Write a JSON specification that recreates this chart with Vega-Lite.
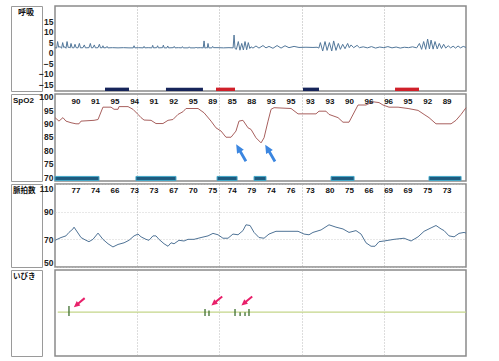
{
  "$schema": "https://vega.github.io/schema/vega-lite/v6.json",
  "padding": {"left": 10, "top": 5, "right": 5, "bottom": 5},
  "background": "white",
  "config": {
    "view": {"stroke": "#8a8a8a", "strokeWidth": 1.5},
    "axis": {"labelFont": "Liberation Sans", "labelFontSize": 8.5, "labelFontWeight": "bold", "labelColor": "#222", "ticks": false, "domain": false, "labelPadding": 2, "gridColor": "#c4c4c4", "gridDash": [3, 2], "gridWidth": 0.8}
  },
  "datasets": {
    "resp": [
      {"t":0,"v":2.4},{"t":1.2,"v":2.2},{"t":1.9,"v":5.3},{"t":2.7,"v":2.6},{"t":3.8,"v":2.9},{"t":4.8,"v":2.1},{"t":5.6,"v":4.8},{"t":6.4,"v":2.5},{"t":7.2,"v":2.8},{"t":8.0,"v":2.1},{"t":8.8,"v":5.3},{"t":9.6,"v":2.5},{"t":10.4,"v":2.6},{"t":11.0,"v":2.2},{"t":11.7,"v":4.4},{"t":12.5,"v":2.4},{"t":13.8,"v":2.3},{"t":14.6,"v":4.0},{"t":15.4,"v":2.4},{"t":16.8,"v":2.3},{"t":17.8,"v":4.4},{"t":18.6,"v":2.3},{"t":20.4,"v":2.4},{"t":21.4,"v":3.7},{"t":22.2,"v":2.3},{"t":24.8,"v":2.4},{"t":25.8,"v":4.4},{"t":26.6,"v":2.3},{"t":27.8,"v":2.4},{"t":28.7,"v":3.7},{"t":29.5,"v":2.3},{"t":31.4,"v":2.4},{"t":32.4,"v":4.0},{"t":33.2,"v":2.3},
      {"t":34.5,"v":2.4},{"t":35.0,"v":3.3},{"t":35.6,"v":2.3},{"t":37.4,"v":2.4},{"t":38.0,"v":3.0},{"t":38.6,"v":2.3},{"t":42,"v":2.4},{"t":46,"v":2.3},{"t":50,"v":2.4},{"t":54,"v":2.3},{"t":57.1,"v":2.3},{"t":57.7,"v":3.3},{"t":58.3,"v":2.3},{"t":61,"v":2.4},{"t":64.4,"v":2.3},{"t":65.0,"v":3.0},{"t":65.6,"v":2.3},{"t":68,"v":2.4},{"t":70.7,"v":2.3},{"t":71.3,"v":3.5},{"t":71.9,"v":2.3},{"t":74.3,"v":2.4},{"t":74.9,"v":3.3},{"t":75.5,"v":2.3},{"t":78.5,"v":2.4},{"t":79.1,"v":3.6},{"t":79.7,"v":2.3},{"t":81.7,"v":2.3},{"t":82.3,"v":3.2},{"t":82.9,"v":2.3},{"t":86.4,"v":2.4},{"t":87,"v":3.0},{"t":87.6,"v":2.3},{"t":90,"v":2.4},{"t":92.4,"v":2.3},{"t":93,"v":2.9},{"t":93.6,"v":2.3},{"t":97.4,"v":2.3},{"t":98,"v":2.8},{"t":98.6,"v":2.3},{"t":102.4,"v":2.3},{"t":103,"v":2.7},{"t":103.6,"v":2.3},{"t":106,"v":2.4},{"t":108.2,"v":2.3},
      {"t":108.8,"v":5.6},{"t":109.4,"v":2.2},{"t":110.5,"v":2.4},{"t":111.1,"v":2.2},{"t":111.7,"v":4.4},{"t":112.3,"v":2.3},{"t":114.5,"v":2.3},{"t":115.1,"v":3.0},{"t":115.7,"v":2.4},{"t":119,"v":2.4},{"t":123,"v":2.3},{"t":127,"v":2.4},{"t":130.0,"v":2.3},{"t":130.7,"v":8.4},{"t":131.4,"v":2.0},{"t":132.4,"v":1.6},{"t":133.8,"v":5.3},{"t":135.0,"v":1.2},{"t":136.3,"v":4.4},{"t":137.5,"v":1.3},{"t":138.7,"v":5.3},{"t":139.9,"v":1.4},{"t":141.1,"v":4.8},{"t":142.2,"v":2.0},
      {"t":143.1,"v":2.8},{"t":144.5,"v":2.2},{"t":146.7,"v":3.2},{"t":148.9,"v":2.2},{"t":151.8,"v":3.4},{"t":154,"v":2.3},{"t":156.2,"v":3.0},{"t":159.1,"v":2.1},{"t":162.1,"v":3.4},{"t":165,"v":2.2},{"t":167.9,"v":3.3},{"t":170.8,"v":2.4},{"t":174.5,"v":3.0},{"t":178.1,"v":2.5},{"t":183.2,"v":2.6},{"t":188.3,"v":2.5},{"t":191.3,"v":2.6},{"t":192.6,"v":2.2},
      {"t":193.7,"v":4.8},{"t":195.4,"v":0.8},{"t":197.1,"v":5.3},{"t":198.6,"v":1.1},{"t":200.3,"v":4.8},{"t":202.0,"v":0.8},{"t":203.4,"v":5.6},{"t":205.1,"v":1.1},{"t":206.8,"v":4.4},{"t":208.3,"v":1.6},{"t":210.0,"v":4.0},{"t":211.7,"v":1.9},{"t":213.6,"v":4.4},{"t":214.8,"v":2.4},{"t":216.1,"v":3.7},{"t":218.0,"v":2.4},{"t":220.5,"v":3.5},{"t":222.2,"v":2.4},
      {"t":225,"v":2.8},{"t":228,"v":2.3},{"t":231,"v":2.9},{"t":234,"v":2.2},{"t":237,"v":2.7},{"t":240,"v":2.4},{"t":243,"v":2.9},{"t":246,"v":2.3},{"t":249,"v":2.7},{"t":252,"v":2.2},{"t":255,"v":2.6},{"t":258,"v":2.4},{"t":261,"v":2.8},{"t":264,"v":2.3},
      {"t":266.0,"v":4.4},{"t":267.6,"v":1.6},{"t":269.1,"v":5.3},{"t":270.6,"v":1.6},{"t":272.0,"v":6.5},{"t":273.3,"v":1.8},{"t":274.5,"v":6.0},{"t":276.0,"v":1.7},{"t":277.4,"v":5.3},{"t":279.0,"v":1.8},{"t":280.5,"v":4.4},{"t":282.1,"v":2.0},{"t":283.7,"v":4.0},{"t":285.2,"v":2.2},{"t":287,"v":3.3},{"t":288.8,"v":2.3},{"t":290.6,"v":3.1},{"t":292.4,"v":2.2},{"t":294.2,"v":3.2},{"t":296,"v":2.3},{"t":298,"v":3.0},{"t":300,"v":2.5}
    ],
    "respEvents": [
      {"t":36.5,"t2":54.0,"kind":"低呼吸"},{"t":81.0,"t2":108.0,"kind":"低呼吸"},{"t":117.5,"t2":131.4,"kind":"無呼吸"},{"t":181.0,"t2":192.7,"kind":"低呼吸"},{"t":248.2,"t2":265.7,"kind":"無呼吸"}
    ],
    "spo2": [
      {"t":0,"v":92.2},{"t":2.9,"v":90.9},{"t":5.8,"v":92.2},{"t":8.0,"v":90.9},{"t":11.7,"v":90.3},{"t":15.3,"v":89.9},{"t":17.5,"v":89.9},{"t":19.0,"v":90.9},{"t":28.5,"v":91.2},{"t":31.4,"v":91.5},{"t":35.0,"v":96.1},{"t":40.9,"v":96.1},{"t":43.1,"v":95.3},{"t":46.0,"v":95.3},{"t":46.7,"v":96.3},{"t":53.3,"v":96.3},{"t":56.9,"v":95.3},{"t":60.6,"v":93.4},{"t":62.8,"v":92.2},{"t":65.0,"v":91.3},{"t":70.1,"v":91.2},{"t":73.7,"v":90.0},{"t":78.8,"v":90.0},{"t":82.5,"v":91.2},{"t":86.1,"v":91.5},{"t":89.8,"v":93.4},{"t":93.4,"v":94.4},{"t":95.6,"v":95.6},{"t":104.4,"v":95.6},{"t":108.8,"v":94.0},{"t":113.9,"v":90.9},{"t":117.5,"v":88.4},{"t":121.2,"v":87.2},{"t":124.8,"v":84.9},{"t":128.5,"v":84.9},{"t":132.1,"v":87.2},{"t":134.3,"v":90.9},{"t":137.2,"v":91.2},{"t":140.9,"v":88.4},{"t":143.1,"v":87.8},{"t":146.7,"v":84.7},{"t":150.4,"v":82.8},{"t":152.6,"v":84.7},{"t":155.5,"v":90.9},{"t":157.7,"v":95.3},{"t":159.9,"v":95.9},{"t":172.3,"v":95.6},{"t":177.4,"v":93.6},{"t":190.5,"v":93.6},{"t":192.7,"v":94.6},{"t":197.8,"v":94.6},{"t":200.0,"v":93.4},{"t":206.6,"v":92.2},{"t":210.2,"v":90.5},{"t":214.6,"v":90.5},{"t":221.2,"v":96.9},{"t":227.0,"v":96.9},{"t":232.1,"v":98.1},{"t":236.5,"v":97.8},{"t":239.4,"v":96.9},{"t":243.8,"v":96.1},{"t":250.4,"v":96.1},{"t":257.7,"v":95.6},{"t":265.0,"v":94.9},{"t":269.4,"v":93.4},{"t":273.0,"v":92.2},{"t":278.1,"v":89.9},{"t":289.1,"v":89.9},{"t":292.7,"v":91.2},{"t":296.4,"v":93.4},{"t":300,"v":95.9}
    ],
    "spo2Events": [
      {"t":0,"t2":32.1},{"t":59.1,"t2":88.3},{"t":118.3,"t2":132.9},{"t":145.3,"t2":154.0},{"t":201.5,"t2":218.3},{"t":273.0,"t2":296.4}
    ],
    "spo2Labels": [
      {"t":15.3,"n":"90"},{"t":29.6,"n":"91"},{"t":43.8,"n":"95"},{"t":58.1,"n":"94"},{"t":72.3,"n":"91"},{"t":86.6,"n":"92"},{"t":100.9,"n":"95"},{"t":115.1,"n":"89"},{"t":129.4,"n":"85"},{"t":143.6,"n":"88"},{"t":157.9,"n":"93"},{"t":172.2,"n":"95"},{"t":186.4,"n":"93"},{"t":200.7,"n":"93"},{"t":214.9,"n":"90"},{"t":229.2,"n":"96"},{"t":243.5,"n":"96"},{"t":257.7,"n":"95"},{"t":272.0,"n":"92"},{"t":286.2,"n":"89"}
    ],
    "spo2Arrows": [{"t":135.8,"v":79.1},{"t":157.0,"v":79.0}],
    "pulse": [
      {"t":0,"v":69.3},{"t":4.4,"v":71.3},{"t":8.0,"v":72.5},{"t":10.2,"v":75},{"t":13.1,"v":77.5},{"t":13.9,"v":78.8},{"t":19.0,"v":71.3},{"t":22.6,"v":69.3},{"t":24.8,"v":68.3},{"t":27.7,"v":70},{"t":31.4,"v":74.5},{"t":35.0,"v":70},{"t":38.7,"v":66.8},{"t":42.3,"v":64.5},{"t":46.0,"v":66.3},{"t":50.4,"v":67.5},{"t":54.0,"v":69.3},{"t":57.7,"v":72.5},{"t":60.6,"v":73.8},{"t":62.8,"v":71.8},{"t":66.4,"v":70},{"t":68.6,"v":69.3},{"t":71.5,"v":72.5},{"t":73.7,"v":72.5},{"t":75.9,"v":70},{"t":79.6,"v":66.8},{"t":82.5,"v":65},{"t":84.7,"v":67.5},{"t":86.9,"v":66.8},{"t":90.5,"v":69.3},{"t":94.2,"v":68.8},{"t":97.1,"v":70},{"t":101.5,"v":70},{"t":106.6,"v":71.3},{"t":111.7,"v":72.5},{"t":115.3,"v":74.3},{"t":119.0,"v":73.3},{"t":122.6,"v":70.8},{"t":126.3,"v":70.8},{"t":129.9,"v":73.8},{"t":133.6,"v":73.3},{"t":137.2,"v":76.3},{"t":139.4,"v":80.5},{"t":142.4,"v":80},{"t":145.3,"v":75},{"t":148.9,"v":71.3},{"t":152.6,"v":70.8},{"t":156.2,"v":73.8},{"t":161.3,"v":75.8},{"t":177.4,"v":75.8},{"t":181.8,"v":73.8},{"t":185.4,"v":73.3},{"t":188.3,"v":75},{"t":194.2,"v":76.8},{"t":200.0,"v":80.5},{"t":205.1,"v":78.8},{"t":210.2,"v":77.5},{"t":214.6,"v":75},{"t":219.7,"v":76.3},{"t":223.4,"v":73.8},{"t":227.0,"v":67.5},{"t":230.7,"v":65},{"t":233.6,"v":65},{"t":236.5,"v":68.3},{"t":240.2,"v":68.8},{"t":247.5,"v":70},{"t":254.8,"v":70.8},{"t":259.9,"v":68.8},{"t":265.0,"v":71.8},{"t":269.4,"v":75.8},{"t":274.5,"v":78.3},{"t":278.1,"v":80},{"t":281.8,"v":77.5},{"t":284.0,"v":76.3},{"t":287.6,"v":72.5},{"t":291.3,"v":71.8},{"t":294.9,"v":74.3},{"t":298.6,"v":75},{"t":300,"v":74.5}
    ],
    "pulseLabels": [
      {"t":15.3,"n":"77"},{"t":29.6,"n":"74"},{"t":43.8,"n":"66"},{"t":58.1,"n":"73"},{"t":72.3,"n":"73"},{"t":86.6,"n":"67"},{"t":100.9,"n":"70"},{"t":115.1,"n":"75"},{"t":129.4,"n":"74"},{"t":143.6,"n":"79"},{"t":157.9,"n":"74"},{"t":172.2,"n":"76"},{"t":186.4,"n":"73"},{"t":200.7,"n":"80"},{"t":214.9,"n":"75"},{"t":229.2,"n":"66"},{"t":243.5,"n":"69"},{"t":257.7,"n":"69"},{"t":272.0,"n":"75"},{"t":286.2,"n":"73"}
    ],
    "snoreLine": [{"t": 2, "t2": 300}],
    "snore": [
      {"t":10.2,"level":0.58},{"t":109.5,"level":0.547},{"t":112.4,"level":0.53},{"t":131.4,"level":0.547},{"t":135.1,"level":0.51},{"t":138.7,"level":0.51},{"t":141.6,"level":0.547}
    ],
    "snoreArrows": [{"t":17.7,"v":0.62},{"t":118.1,"v":0.64},{"t":140.0,"v":0.64}]
  },
  "columns": 2,
  "align": "each",
  "bounds": "flush",
  "spacing": {"row": 3, "column": 13},
  "concat": [
    {
      "width": 31, "height": 85,
      "view": {"stroke": "#9a9a9a", "strokeWidth": 1},
      "data": {"values": [{"label": "呼吸"}]},
      "mark": {"type": "text", "align": "left", "baseline": "top", "font": "Noto Sans CJK JP", "fontSize": 8, "fontWeight": "bold", "color": "#111", "dx": 7, "dy": 3},
      "encoding": {
        "text": {"field": "label"},
        "x": {"datum": 0, "type": "quantitative", "scale": {"domain": [0, 1]}, "axis": null},
        "y": {"datum": 1, "type": "quantitative", "scale": {"domain": [0, 1]}, "axis": null}
      }
    },
    {
      "width": 411, "height": 85,
      "encoding": {
        "x": {"field": "t", "type": "quantitative", "scale": {"domain": [0, 300], "nice": false, "zero": false}, "axis": {"values": [60, 120, 180, 240], "labels": false, "grid": true, "gridDash": [1, 2], "gridColor": "#999", "title": null}}
      },
      "layer": [
        {
          "data": {"name": "respEvents"},
          "mark": {"type": "rect"},
          "encoding": {
            "x2": {"field": "t2"},
            "y": {"datum": -16.6, "type": "quantitative", "scale": {"domain": [-18.2, 22.2], "nice": false, "zero": false}, "axis": {"values": [-15, -10, -5, 0, 5, 10, 15], "title": null}},
            "y2": {"datum": -18.2},
            "color": {"field": "kind", "type": "nominal", "scale": {"domain": ["低呼吸", "無呼吸"], "range": ["#17255a", "#d0202a"]}, "legend": null}
          }
        },
        {
          "data": {"name": "resp"},
          "mark": {"type": "line", "color": "#52779a", "strokeWidth": 1},
          "encoding": {
            "y": {"field": "v", "type": "quantitative", "scale": {"domain": [-18.2, 22.2], "nice": false, "zero": false}, "axis": {"values": [-15, -10, -5, 0, 5, 10, 15], "title": null}}
          }
        }
      ]
    },
    {
      "width": 31, "height": 87,
      "view": {"stroke": "#9a9a9a", "strokeWidth": 1},
      "data": {"values": [{"label": "SpO2"}]},
      "mark": {"type": "text", "align": "left", "baseline": "top", "font": "Liberation Sans", "fontSize": 8, "fontWeight": "bold", "color": "#111", "dx": 2, "dy": 3},
      "encoding": {
        "text": {"field": "label"},
        "x": {"datum": 0, "type": "quantitative", "scale": {"domain": [0, 1]}, "axis": null},
        "y": {"datum": 1, "type": "quantitative", "scale": {"domain": [0, 1]}, "axis": null}
      }
    },
    {
      "width": 411, "height": 87,
      "encoding": {
        "x": {"field": "t", "type": "quantitative", "scale": {"domain": [0, 300], "nice": false, "zero": false}, "axis": {"values": [60, 120, 180, 240], "labels": false, "grid": true, "gridDash": [1, 2], "gridColor": "#999", "title": null}}
      },
      "layer": [
        {
          "data": {"name": "spo2Events"},
          "mark": {"type": "rect", "fill": "#1e5a7e", "stroke": "#45a9c9", "strokeWidth": 1},
          "encoding": {
            "x2": {"field": "t2"},
            "y": {"datum": 70.3, "type": "quantitative", "scale": {"domain": [68.6, 101], "nice": false, "zero": false}, "axis": {"values": [70, 75, 80, 85, 90, 95, 100], "title": null}},
            "y2": {"datum": 68.8}
          }
        },
        {
          "data": {"name": "spo2"},
          "mark": {"type": "line", "color": "#a8605e", "strokeWidth": 1},
          "encoding": {
            "y": {"field": "v", "type": "quantitative", "scale": {"domain": [68.6, 101], "nice": false, "zero": false}, "axis": {"values": [70, 75, 80, 85, 90, 95, 100], "title": null}}
          }
        },
        {
          "data": {"name": "spo2Labels"},
          "mark": {"type": "text", "font": "Liberation Sans", "fontSize": 8, "fontWeight": "bold", "color": "#111", "baseline": "middle"},
          "encoding": {
            "text": {"field": "n"},
            "y": {"datum": 97.9, "type": "quantitative", "scale": {"domain": [68.6, 101], "nice": false, "zero": false}, "axis": {"values": [70, 75, 80, 85, 90, 95, 100], "title": null}}
          }
        },
        {
          "data": {"name": "spo2Arrows"},
          "mark": {"type": "point", "shape": "arrow", "size": 380, "angle": 330, "filled": true, "color": "#3b86e0", "opacity": 1},
          "encoding": {
            "y": {"field": "v", "type": "quantitative", "scale": {"domain": [68.6, 101], "nice": false, "zero": false}, "axis": {"values": [70, 75, 80, 85, 90, 95, 100], "title": null}}
          }
        }
      ]
    },
    {
      "width": 31, "height": 83,
      "view": {"stroke": "#9a9a9a", "strokeWidth": 1},
      "data": {"values": [{"label": "脈拍数"}]},
      "mark": {"type": "text", "align": "left", "baseline": "top", "font": "Noto Sans CJK JP", "fontSize": 7.5, "fontWeight": "bold", "color": "#111", "dx": 2, "dy": 3},
      "encoding": {
        "text": {"field": "label"},
        "x": {"datum": 0, "type": "quantitative", "scale": {"domain": [0, 1]}, "axis": null},
        "y": {"datum": 1, "type": "quantitative", "scale": {"domain": [0, 1]}, "axis": null}
      }
    },
    {
      "width": 411, "height": 83,
      "encoding": {
        "x": {"field": "t", "type": "quantitative", "scale": {"domain": [0, 300], "nice": false, "zero": false}, "axis": {"values": [60, 120, 180, 240], "labels": false, "grid": true, "gridDash": [1, 2], "gridColor": "#999", "title": null}}
      },
      "layer": [
        {
          "data": {"name": "pulse"},
          "mark": {"type": "line", "color": "#4f7396", "strokeWidth": 1},
          "encoding": {
            "y": {"field": "v", "type": "quantitative", "scale": {"domain": [50, 110], "nice": false, "zero": false}, "axis": {"values": [50, 70, 90, 110], "title": null, "gridDash": [1, 2], "labelFlush": true}}
          }
        },
        {
          "data": {"name": "pulseLabels"},
          "mark": {"type": "text", "font": "Liberation Sans", "fontSize": 8, "fontWeight": "bold", "color": "#111", "baseline": "middle"},
          "encoding": {
            "text": {"field": "n"},
            "y": {"datum": 105.3, "type": "quantitative", "scale": {"domain": [50, 110], "nice": false, "zero": false}, "axis": {"values": [50, 70, 90, 110], "title": null, "gridDash": [1, 2], "labelFlush": true}}
          }
        }
      ]
    },
    {
      "width": 31, "height": 86,
      "view": {"stroke": "#9a9a9a", "strokeWidth": 1},
      "data": {"values": [{"label": "いびき"}]},
      "mark": {"type": "text", "align": "left", "baseline": "top", "font": "Noto Sans CJK JP", "fontSize": 7.5, "fontWeight": "bold", "color": "#111", "dx": 2, "dy": 3},
      "encoding": {
        "text": {"field": "label"},
        "x": {"datum": 0, "type": "quantitative", "scale": {"domain": [0, 1]}, "axis": null},
        "y": {"datum": 1, "type": "quantitative", "scale": {"domain": [0, 1]}, "axis": null}
      }
    },
    {
      "width": 411, "height": 86,
      "encoding": {
        "x": {"field": "t", "type": "quantitative", "scale": {"domain": [0, 300], "nice": false, "zero": false}, "axis": {"values": [60, 120, 180, 240], "labels": false, "grid": true, "gridDash": [1, 2], "gridColor": "#aaa", "title": null}}
      },
      "layer": [
        {
          "data": {"name": "snoreLine"},
          "mark": {"type": "rule", "color": "#c4d68a", "strokeWidth": 1.2},
          "encoding": {
            "x2": {"field": "t2"},
            "y": {"datum": 0.51, "type": "quantitative", "scale": {"domain": [0, 1], "nice": false, "zero": false}, "axis": null}
          }
        },
        {
          "data": {"name": "snore"},
          "mark": {"type": "rule", "color": "#3f6f30", "strokeWidth": 1.3},
          "encoding": {
            "y": {"field": "level", "type": "quantitative", "scale": {"domain": [0, 1], "nice": false, "zero": false}, "axis": null},
            "y2": {"datum": 0.465}
          }
        },
        {
          "data": {"name": "snoreArrows"},
          "mark": {"type": "point", "shape": "arrow", "size": 200, "angle": 230, "filled": true, "color": "#e8206a", "opacity": 1},
          "encoding": {
            "y": {"field": "v", "type": "quantitative", "scale": {"domain": [0, 1], "nice": false, "zero": false}, "axis": null}
          }
        }
      ]
    }
  ]
}
